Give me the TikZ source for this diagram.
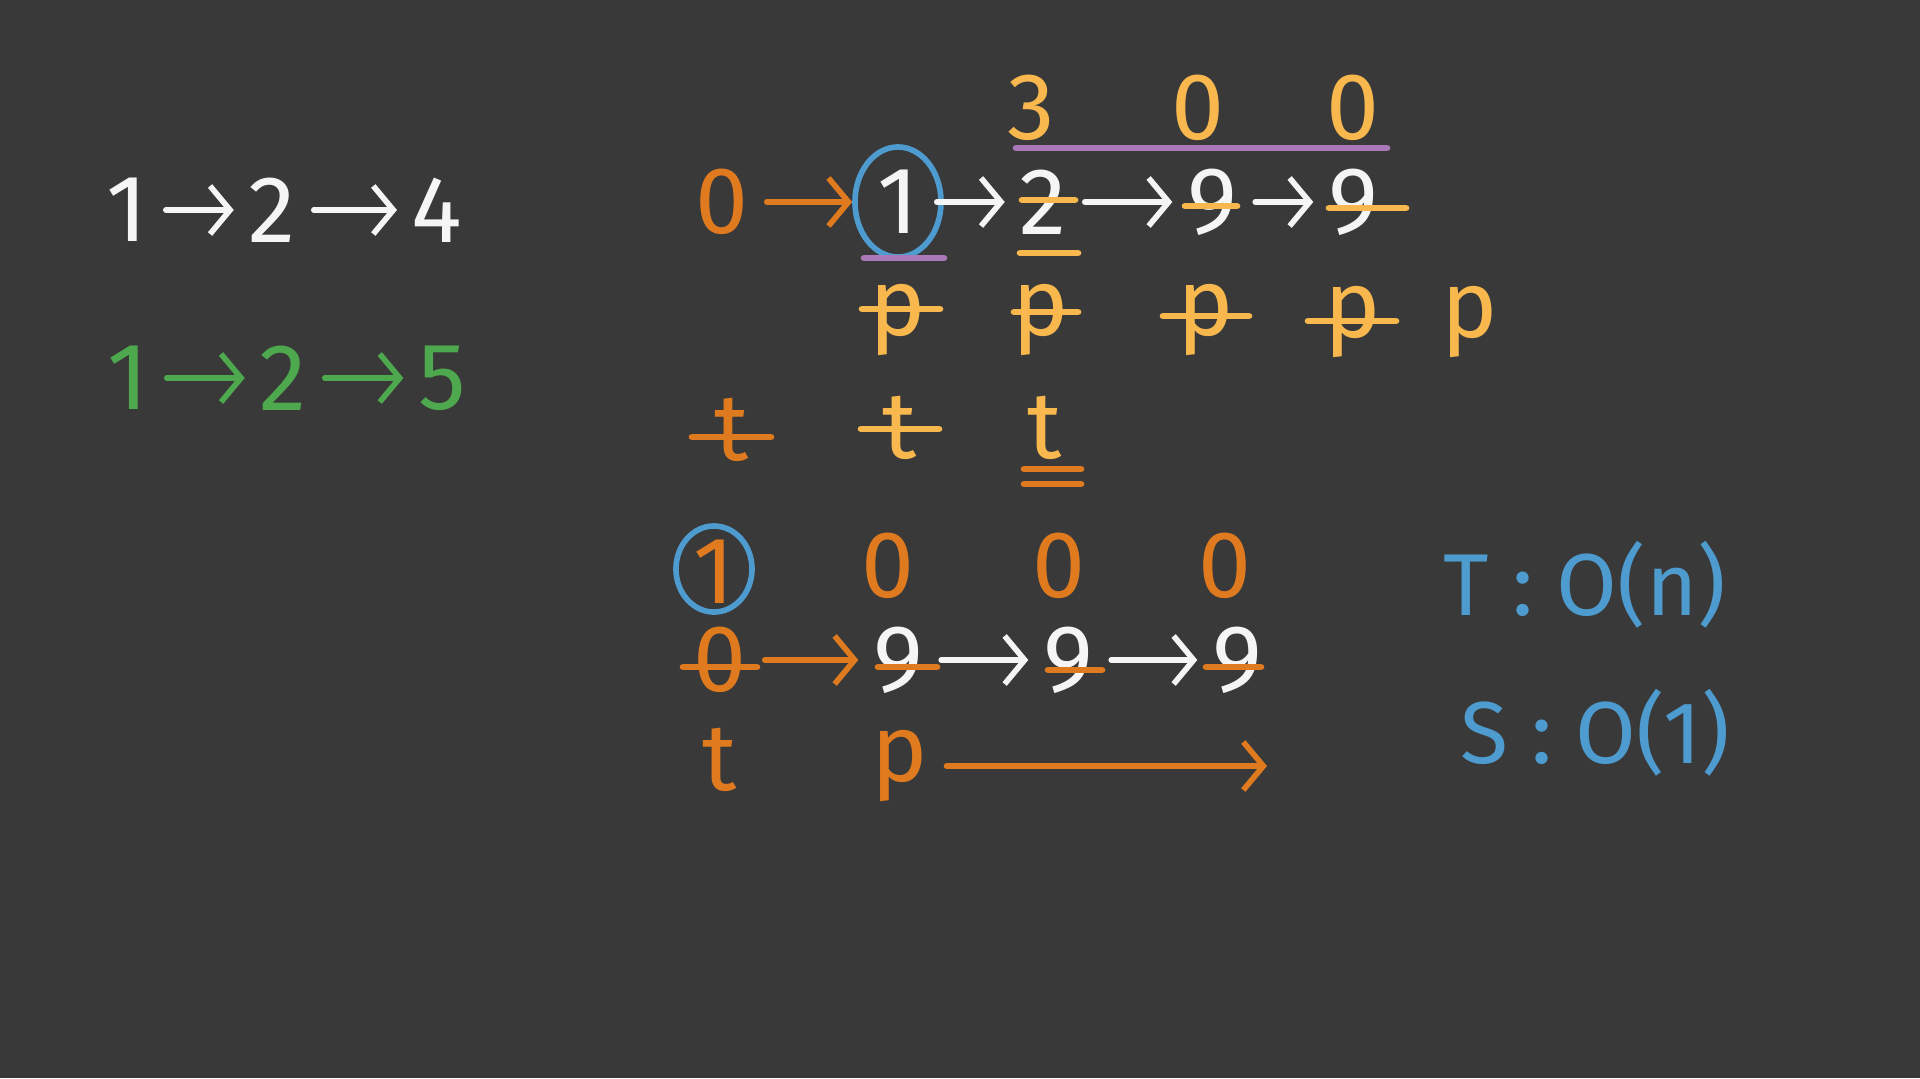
\documentclass[tikz,border=0pt]{standalone}
\usepackage{fontspec}
\setmainfont{Fira Sans}
\usetikzlibrary{positioning,arrows.meta,calc,shapes.geometric}
\definecolor{board}{RGB}{57,57,57}
\definecolor{chalk}{RGB}{245,245,245}
\definecolor{orng}{RGB}{224,122,31}
\definecolor{ylw}{RGB}{248,184,78}
\definecolor{purp}{RGB}{168,120,184}
\definecolor{blu}{RGB}{78,156,207}
\definecolor{grn}{RGB}{78,168,78}
\tikzset{
  hw/.style={font=\fontsize{27}{30}\selectfont,inner sep=1pt},
  wt/.style={hw,text=chalk},
  ot/.style={hw,text=orng},
  yt/.style={hw,text=ylw},
  bt/.style={hw,text=blu,font=\fontsize{25}{30}\selectfont},
  gt/.style={hw,text=grn},
  harr/.style={-{Straight Barb[length=2mm,width=4.8mm]},line width=1.6pt,
    line cap=round,shorten <=4pt,shorten >=3pt},
  strk/.style={line width=1.9pt,line cap=round},   % crossing-out stroke
  ring/.style={ellipse,draw=blu,line width=1.6pt,inner sep=0pt},
}
\begin{document}
\begin{tikzpicture}[x=0.01cm,y=-0.01cm]
  \fill[board] (0,0) rectangle (1920,1078);
  \useasboundingbox (0,0) rectangle (1920,1078);
  % the two input lists
  \node[wt] (w1) at (127,210) {1};
  \node[wt] (w2) at (272,210) {2};
  \node[wt] (w4) at (437,210) {4};
  \draw[harr,chalk] (w1) -- (w2);
  \draw[harr,chalk] (w2) -- (w4);
  \node[gt] (g1) at (128,378) {1};
  \node[gt] (g2) at (283,378) {2};
  \node[gt] (g5) at (442,378) {5};
  \draw[harr,grn] (g1) -- (g2);
  \draw[harr,grn] (g2) -- (g5);
  % first pass: 0 -> 1 -> 2 -> 9 -> 9
  \node[ot] (z0) at (722,202) {0};
  \node[ring,minimum width=0.86cm,minimum height=1.1cm] (c1) at (898,202) {};
  \node[wt] (r1) at (898,202) {1};
  \node[wt] (n2) at (1043,202) {2};
  \node[wt] (n3) at (1212,202) {9};
  \node[wt] (n4) at (1353,202) {9};
  \draw[harr,orng,shorten >=0pt] (z0) -- (c1);
  \draw[harr,chalk,shorten <=-2pt] (c1) -- (n2);
  \draw[harr,chalk] (n2) -- (n3);
  \draw[harr,chalk] (n3) -- (n4);
  \node[yt] (u3) at (1031,108) {3};
  \node[yt] (u0a) at (1198,108) {0};
  \node[yt] (u0b) at (1353,108) {0};
  \draw[strk,purp] (1016,148) -- (1387,148);
  \draw[strk,purp] (864,258) -- (944,258);
  \draw[strk,ylw] (1020,253) -- (1078,253);
  \draw[strk,ylw] (1022,200) -- (1075,200);
  \draw[strk,ylw] (1185,206) -- (1237,206);
  \draw[strk,ylw] (1329,208) -- (1406,208);
  % p moves along
  \node[yt] (p1) at (898,320) {p};
  \node[yt] (p2) at (1041,320) {p};
  \node[yt] (p3) at (1206,320) {p};
  \node[yt] (p4) at (1353,322) {p};
  \node[yt] (p5) at (1470,322) {p};
  \draw[strk,ylw] (862,309) -- (940,309);
  \draw[strk,ylw] (1014,312) -- (1078,312);
  \draw[strk,ylw] (1163,316) -- (1249,316);
  \draw[strk,ylw] (1308,321) -- (1396,321);
  % t follows
  \node[ot] (t1) at (732,430) {t};
  \node[yt] (t2) at (900,428) {t};
  \node[yt] (t3) at (1045,428) {t};
  \draw[strk,orng] (692,437) -- (771,437);
  \draw[strk,ylw] (861,429) -- (939,429);
  \draw[strk,orng] (1024,469) -- (1081,469);
  \draw[strk,orng] (1024,484) -- (1081,484);
  % second case: 0 -> 9 -> 9 -> 9
  \node[ring,minimum width=0.76cm,minimum height=0.86cm] (c2) at (714,569) {};
  \node[ot] (o1) at (714,572) {1};
  \node[ot] (o0a) at (888,566) {0};
  \node[ot] (o0b) at (1059,566) {0};
  \node[ot] (o0c) at (1225,566) {0};
  \node[ot] (h0) at (720,660) {0};
  \node[wt] (m1) at (898,660) {9};
  \node[wt] (m2) at (1068,660) {9};
  \node[wt] (m3) at (1237,660) {9};
  \draw[harr,orng] (h0) -- (m1);
  \draw[harr,chalk] (m1) -- (m2);
  \draw[harr,chalk] (m2) -- (m3);
  \draw[strk,orng] (683,667) -- (757,667);
  \draw[strk,orng] (878,667) -- (937,667);
  \draw[strk,orng] (1048,670) -- (1102,670);
  \draw[strk,orng] (1206,667) -- (1261,667);
  \node[ot] (bt0) at (720,760) {t};
  \node[ot] (bp) at (900,766) {p};
  \coordinate (pend) at (1267,766);
  \draw[harr,orng,shorten >=0pt] (bp) -- (pend);
  % complexity
  \node[bt] (tc) at (1585,585) {T : O(n)};
  \node[bt] (sc) at (1595,733) {S : O(1)};
\end{tikzpicture}
\end{document}
